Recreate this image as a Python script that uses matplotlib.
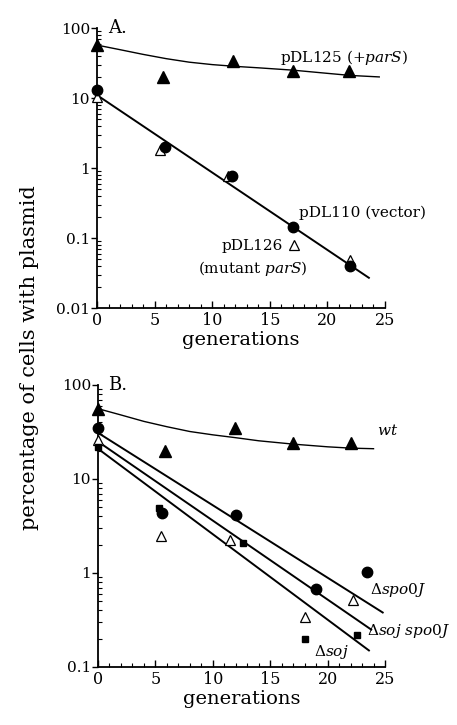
import numpy as np
import matplotlib.pyplot as plt
from matplotlib.ticker import LogLocator, NullFormatter, MultipleLocator

plt.rcParams.update({'font.family': 'DejaVu Serif', 'font.size': 11,
                     'mathtext.fontset': 'dejavuserif'})

# ---- panel A data ----
a_tri_x = [0, 5.7, 11.8, 17.0, 21.9]          # pDL125 (+parS), filled triangles
a_tri_y = [57, 20, 34, 24, 24]
a_circ_x = [0, 5.9, 11.7, 17.0, 22.0]         # pDL110 (vector), filled circles
a_circ_y = [13, 2.0, 0.76, 0.145, 0.04]
a_otri_x = [0, 5.5, 11.4, 17.1, 22.0]         # pDL126 (mutant parS), open triangles
a_otri_y = [10.5, 1.8, 0.76, 0.08, 0.048]
a_curve_x = [0, 2, 4, 6, 8, 10, 12, 14, 17, 20, 22, 24.5]   # fitted curve for pDL125
a_curve_y = [57, 49, 42, 36.5, 32.5, 30, 28.3, 27, 25, 22.5, 21, 20]
a_line_x = [0, 23.6]                          # fitted line for pDL110/pDL126
a_line_y = [11, 0.027]

# ---- panel B data ----
b_wt_x = [0, 5.8, 11.9, 17.0, 22.0]           # wt, filled triangles
b_wt_y = [56, 20, 35, 24, 24]
b_spo_x = [0, 5.6, 12.0, 19.0, 23.4]          # delta spo0J, filled circles
b_spo_y = [35, 4.4, 4.1, 0.67, 1.03]
b_ss_x = [0, 5.5, 11.5, 18.0, 22.2]           # delta soj spo0J, open triangles
b_ss_y = [26, 2.5, 2.25, 0.34, 0.52]
b_soj_x = [0, 5.3, 12.6, 18.0, 22.6]          # delta soj, filled squares
b_soj_y = [22, 4.9, 2.1, 0.2, 0.22]
b_curve_x = [0, 2, 4, 6, 8, 10, 12, 14, 17, 20, 22, 24.0]
b_curve_y = [56, 48, 41, 36, 32, 29.5, 27.5, 25.5, 23.5, 22, 21.3, 21]
b_spo_line_x, b_spo_line_y = [0, 24.8], [31, 0.38]
b_ss_line_x, b_ss_line_y = [0, 23.8], [25, 0.25]
b_soj_line_x, b_soj_line_y = [0, 23.6], [21, 0.15]

W, H = 457, 725
fig = plt.figure(figsize=(W/100, H/100), dpi=100)
axA = fig.add_axes([97/W, 1-308/H, 288/W, 280/H])
axB = fig.add_axes([98/W, 1-667/H, 287/W, 282/H])

def style(ax, ymin, ymax):
    ax.set_yscale('log')
    ax.set_xlim(0, 25)
    ax.set_ylim(ymin, ymax)
    for s in ['top', 'right']:
        ax.spines[s].set_visible(False)
    for s in ['left', 'bottom']:
        ax.spines[s].set_linewidth(1.3)
    ax.xaxis.set_major_locator(MultipleLocator(5))
    ax.xaxis.set_minor_locator(MultipleLocator(1))
    ax.yaxis.set_major_locator(LogLocator(base=10))
    ax.yaxis.set_minor_locator(LogLocator(base=10, subs=np.arange(2, 10)))
    ax.yaxis.set_minor_formatter(NullFormatter())
    ax.yaxis.set_major_formatter(plt.FuncFormatter(lambda v, p: '%g' % v))
    ax.tick_params(axis='y', which='major', direction='out', length=4, width=1, labelsize=11, pad=1)
    ax.tick_params(axis='y', which='minor', direction='in', length=3, width=0.8)
    ax.tick_params(axis='x', which='major', direction='in', length=5, width=1, labelsize=11.5, pad=3)
    ax.tick_params(axis='x', which='minor', direction='in', length=3, width=0.8)
    ax.set_xlabel('generations', fontsize=14, labelpad=1)

style(axA, 0.01, 100)
style(axB, 0.1, 100)

lw = 1.4
mk = dict(color='black', linestyle='none', clip_on=False, zorder=5)

# panel A
axA.plot(a_curve_x, a_curve_y, color='black', lw=1.0)
axA.plot(a_line_x, a_line_y, color='black', lw=lw)
axA.plot(a_tri_x, a_tri_y, marker='^', ms=8, **mk)
axA.plot(a_otri_x, a_otri_y, marker='^', ms=7, mfc='white', mew=0.9, **mk)
axA.plot(a_circ_x, a_circ_y, marker='o', ms=7.5, **mk)
axA.text(1.0, 100, 'A.', fontsize=13, va='center')
axA.text(15.9, 38, 'pDL125 (+$\\it{parS}$)', fontsize=11, va='center')
axA.text(17.5, 0.23, 'pDL110 (vector)', fontsize=11, va='center')
axA.text(10.8, 0.077, 'pDL126', fontsize=11, va='center')
axA.text(8.8, 0.037, '(mutant $\\it{parS}$)', fontsize=11, va='center')

# panel B
axB.plot(b_curve_x, b_curve_y, color='black', lw=1.0)
axB.plot(b_spo_line_x, b_spo_line_y, color='black', lw=lw)
axB.plot(b_ss_line_x, b_ss_line_y, color='black', lw=lw)
axB.plot(b_soj_line_x, b_soj_line_y, color='black', lw=lw)
axB.plot(b_wt_x, b_wt_y, marker='^', ms=8, **mk)
axB.plot(b_ss_x, b_ss_y, marker='^', ms=7, mfc='white', mew=0.9, **mk)
axB.plot(b_spo_x, b_spo_y, marker='o', ms=7.5, **mk)
axB.plot(b_soj_x, b_soj_y, marker='s', ms=5, **mk)
axB.text(0.9, 100, 'B.', fontsize=13, va='center')
axB.text(24.3, 33, '$\\it{wt}$', fontsize=11, va='center')
axB.text(23.7, 0.66, '$\\Delta\\it{spo0J}$', fontsize=11, va='center')
axB.text(23.4, 0.24, '$\\Delta\\it{soj\\ spo0J}$', fontsize=11, va='center')
axB.text(18.8, 0.145, '$\\Delta\\it{soj}$', fontsize=11, va='center')

fig.text(30/W, 1-358/H, 'percentage of cells with plasmid', rotation=90,
         fontsize=15, ha='center', va='center')

fig.savefig('out.png', dpi=100)
